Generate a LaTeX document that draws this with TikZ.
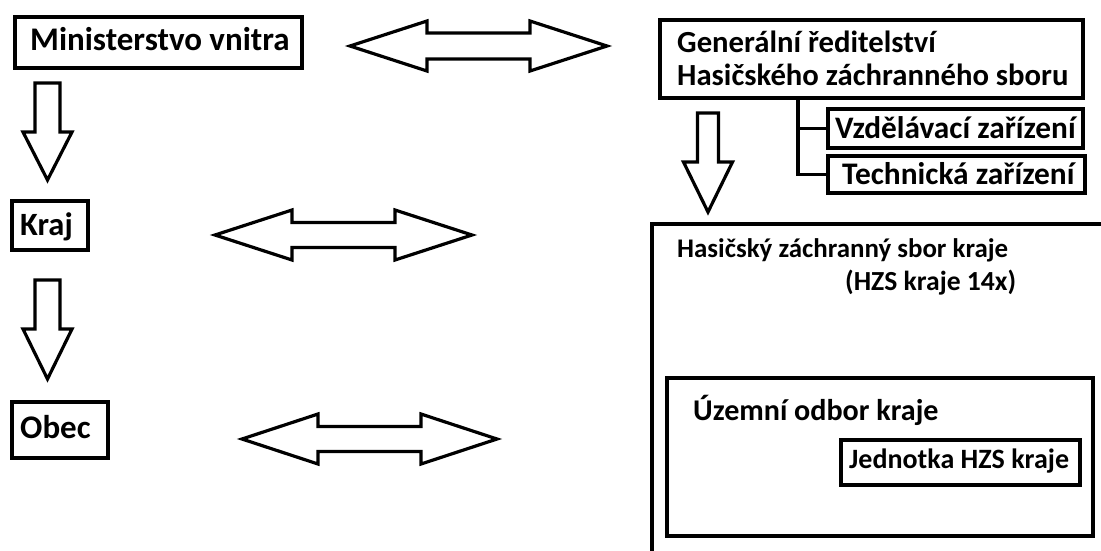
\documentclass[tikz,border=0pt]{standalone}
\usepackage{fontspec}
\setmainfont{Carlito}
\begin{document}
\begin{tikzpicture}[x=1pt,y=-1pt,
  box/.style={draw, line width=3.8pt, inner sep=0pt},
  blk/.style={draw, line width=3.2pt, fill=white, line join=miter},
  conn/.style={draw, line width=3.2pt},
  lbl/.style={inner sep=0pt, anchor=base west, font=\bfseries\fontsize{#1}{#1}\selectfont}]
\useasboundingbox (0,0) rectangle (1101,550);
\clip (0,0) rectangle (1101,550);
% boxes
\node[box, minimum width=287pt, minimum height=51pt] (min) at (158.5,42.5) {};
\node[box, minimum width=76pt, minimum height=49pt] (kraj) at (50,225.5) {};
\node[box, minimum width=96pt, minimum height=56pt] (obec) at (60,430) {};
\node[box, minimum width=423pt, minimum height=78pt] (gen) at (871.5,59) {};
\node[box, minimum width=255pt, minimum height=39pt] (vzd) at (955.5,128.5) {};
\node[box, minimum width=257pt, minimum height=37pt] (tech) at (956.5,174.5) {};
\node[box, minimum width=468pt, minimum height=346pt] (hzs) at (886,397) {};
\node[box, minimum width=426pt, minimum height=158pt] (uzo) at (880,457) {};
\node[box, minimum width=239pt, minimum height=45pt] (jed) at (960.5,462.5) {};
% labels
\node[lbl=33] (minT) at (30,50) {Ministerstvo vnitra};
\node[lbl=32.5] (krajT) at (20,235) {Kraj};
\node[lbl=33] (obecT) at (20,438) {Obec};
\node[lbl=30.7] (genT1) at (677,52) {Generální ředitelství};
\node[lbl=30.7] (genT2) at (677,85) {Hasičského záchranného sboru};
\node[lbl=31.3] (vzdT) at (835,138) {Vzdělávací zařízení};
\node[lbl=31.4] (techT) at (842,184) {Technická zařízení};
\node[lbl=26.9] (hzsT1) at (677,257) {Hasičský záchranný sbor kraje};
\node[lbl=27.6] (hzsT2) at (845,290) {(HZS kraje 14x)};
\node[lbl=30.1] (uzoT) at (693,420) {Územní odbor kraje};
\node[lbl=28] (jedT) at (849,468) {Jednotka HZS kraje};
% tree connector
\coordinate (tx) at (798,0);
\draw[conn] (gen.south -| tx) |- (vzd.west);
\draw[conn] (gen.south -| tx) |- (tech.west);
% double arrows
\foreach \L/\R/\c/\h/\s in {350/607/46/77/13, 215/472/235/77/12.5, 242/497/439/76/12.5}{
  \draw[blk] (\L,\c) -- (\L+\h,\c-25) -- (\L+\h,\c-\s) -- (\R-\h,\c-\s) -- (\R-\h,\c-25)
    -- (\R,\c) -- (\R-\h,\c+25) -- (\R-\h,\c+\s) -- (\L+\h,\c+\s) -- (\L+\h,\c+25) -- cycle;
}
% down arrows
\foreach \cx/\t/\b/\p/\s in {47.5/83/132/180/12.5, 47.5/280/329/379/12.5, 708/113/162/212/10.5}{
  \draw[blk] (\cx-\s,\t) -- (\cx+\s,\t) -- (\cx+\s,\b) -- (\cx+24.5,\b) -- (\cx,\p)
    -- (\cx-24.5,\b) -- (\cx-\s,\b) -- cycle;
}
\end{tikzpicture}
\end{document}
